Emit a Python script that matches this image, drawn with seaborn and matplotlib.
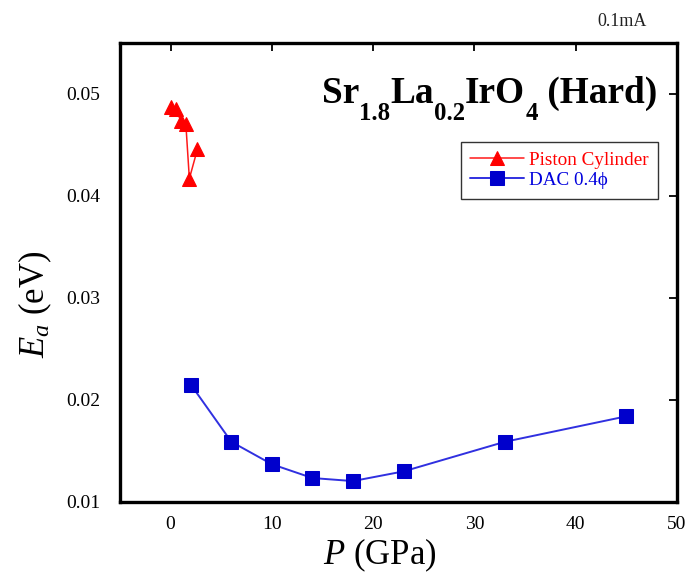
import matplotlib
matplotlib.use("Agg")
import matplotlib.pyplot as plt
import seaborn as sns
import pandas as pd

# Data
piston_p = [0.0, 0.5, 1.0, 1.5, 1.85, 2.65]
piston_ea = [0.0487, 0.0485, 0.0474, 0.0471, 0.0417, 0.0446]
dac_p = [2, 6, 10, 14, 18, 23, 33, 45]
dac_ea = [0.0215, 0.0159, 0.0137, 0.01235, 0.01205, 0.0130, 0.0159, 0.0184]
x_ticks = [0, 10, 20, 30, 40, 50]
y_ticks = [0.01, 0.02, 0.03, 0.04, 0.05]

sns.set_theme(style="white")
plt.rcParams["font.family"] = ["Liberation Serif", "DejaVu Serif"]
plt.rcParams["mathtext.fontset"] = "custom"
plt.rcParams["mathtext.rm"] = "Liberation Serif"
plt.rcParams["mathtext.it"] = "Liberation Serif:italic"
plt.rcParams["mathtext.bf"] = "Liberation Serif:bold"
plt.rcParams["text.color"] = "black"
plt.rcParams["axes.labelcolor"] = "black"

fig = plt.figure(figsize=(6.9, 5.77), dpi=100)
ax = fig.add_axes([0.1739, 0.13, 0.8072, 0.7955])

df_p = pd.DataFrame({"P": piston_p, "Ea": piston_ea})
df_d = pd.DataFrame({"P": dac_p, "Ea": dac_ea})

sns.lineplot(data=df_p, x="P", y="Ea", sort=False, estimator=None, ax=ax,
             color="#ff1a1a", lw=1.1, marker="^", markersize=9.5,
             markeredgecolor="#ff0000", markerfacecolor="#ff0000",
             label="Piston Cylinder")
sns.lineplot(data=df_d, x="P", y="Ea", sort=False, estimator=None, ax=ax,
             color="#3030e0", lw=1.4, marker="s", markersize=10,
             markeredgecolor="#0000cc", markerfacecolor="#0000cc",
             label="DAC 0.4\u03d5")

ax.set_xlim(-5, 50)
ax.set_ylim(0.01, 0.055)
ax.set_xticks(x_ticks)
ax.set_yticks(y_ticks)
ax.set_xticklabels([str(t) for t in x_ticks])
ax.set_yticklabels([f"{t:.2f}" for t in y_ticks])

for s in ax.spines.values():
    s.set_linewidth(2.4)
    s.set_color("black")
ax.tick_params(direction="in", length=6, width=1.3, top=True, right=True,
               labeltop=False, labelright=False, labelsize=14,
               colors="black")
ax.tick_params(axis="y", pad=14)
ax.tick_params(axis="x", pad=10)

ax.set_xlabel("$P$ (GPa)", fontsize=25)
ax.set_ylabel("$E_a$ (eV)", fontsize=25)
ax.xaxis.set_label_coords(0.467, -0.075)
ax.yaxis.set_label_coords(-0.118, 0.431)

# Title built from pieces so the subscripts sit low and large
main_fs, sub_fs, drop = 26.8, 17.8, 10
pieces = [("Sr", False), ("1.8", True), ("La", False), ("0.2", True),
          ("IrO", False), ("4", True), (" (Hard)", False)]
prev = ax.text(0.3627, 0.869, pieces[0][0], transform=ax.transAxes,
               ha="left", va="baseline", fontsize=main_fs,
               fontweight="bold")
prev_sub = False
for txt, is_sub in pieces[1:]:
    if is_sub:
        dy = -drop
    elif prev_sub:
        dy = drop
    else:
        dy = 0
    prev = ax.annotate(txt, xy=(1, 0), xycoords=prev, xytext=(0, dy),
                       textcoords="offset points", ha="left", va="bottom",
                       fontsize=sub_fs if is_sub else main_fs,
                       fontweight="bold")
    prev_sub = is_sub

leg = ax.legend(loc="upper right", bbox_to_anchor=(0.966, 0.785),
                fontsize=13.8, frameon=True, fancybox=False, handlelength=2.8,
                borderpad=0.5, labelspacing=0.15, handletextpad=0.25,
                borderaxespad=0)
leg.get_frame().set_edgecolor("black")
leg.get_frame().set_linewidth(1.0)
for txt, c in zip(leg.get_texts(), ["#ff0000", "#0000dd"]):
    txt.set_color(c)

fig.text(0.901, 0.963, "0.1mA", ha="center", va="center", fontsize=13,
         color="#222222")

fig.savefig("out.png", dpi=100)
